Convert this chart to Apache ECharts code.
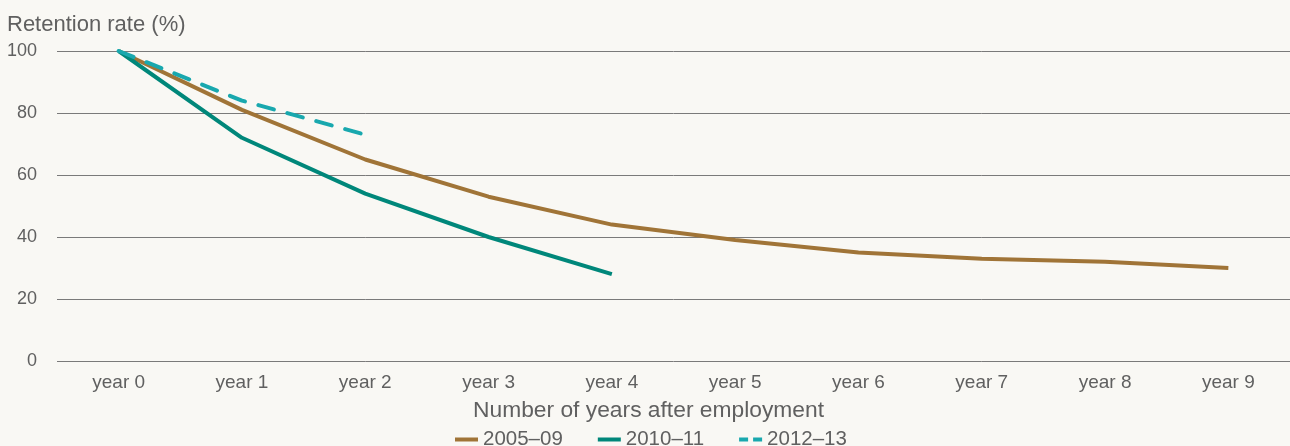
<!DOCTYPE html>
<html>
<head>
<meta charset="utf-8">
<script src="https://cdn.jsdelivr.net/npm/echarts@6/dist/echarts.min.js"></script>
<style>
  html, body { margin: 0; padding: 0; background: #f9f8f4; }
  #chart { width: 1290px; height: 446px; }
</style>
</head>
<body>
<div id="chart"></div>
<script>
// Retention of staff by years since employment, per hiring cohort
const categories = ['year 0', 'year 1', 'year 2', 'year 3', 'year 4', 'year 5', 'year 6', 'year 7', 'year 8', 'year 9'];
const cohort0509 = [100, 81, 65, 53, 44, 39, 35, 33, 32, 30];
const cohort1011 = [100, 72, 54, 40, 28];
const cohort1213 = [100, 84, 73];
const seriesNames = ['2005–09', '2010–11', '2012–13'];
const yTicks = [0, 20, 40, 60, 80, 100];

const FONT = '"Liberation Sans", Arial, Helvetica, sans-serif';
const TEXT = '#606060';
const BROWN = '#a07437';
const GREEN = '#00877a';
const TEAL = '#19a8ae';

const chart = echarts.init(document.getElementById('chart'), null, { renderer: 'canvas' });

chart.setOption({
  backgroundColor: '#f9f8f4',
  animation: false,
  textStyle: { fontFamily: FONT, color: TEXT },
  title: {
    text: 'Retention rate (%)',
    left: 2, top: 9,
    textStyle: { fontFamily: FONT, fontSize: 22, fontWeight: 'normal', color: TEXT }
  },
  legend: {
    top: 424,
    left: 450,
    itemWidth: 23,
    itemHeight: 4,
    itemGap: 35,
    textStyle: { fontFamily: FONT, fontSize: 20.5, color: TEXT },
    data: [
      { name: seriesNames[0], icon: 'rect' },
      { name: seriesNames[1], icon: 'rect' },
      // two short dashes for the dashed cohort
      { name: seriesNames[2], icon: 'path://M0,0H9V4H0Z M14,0H23V4H14Z' }
    ]
  },
  grid: { left: 57, right: 0, top: 51, bottom: 85 },
  xAxis: {
    type: 'category',
    data: categories,
    boundaryGap: true,
    name: 'Number of years after employment',
    nameLocation: 'middle',
    nameGap: 38,
    nameTextStyle: { fontFamily: FONT, fontSize: 22.8, color: TEXT, padding: [0, 50, 0, 0] },
    axisLine: { show: false },
    axisTick: { show: false },
    axisLabel: { fontFamily: FONT, fontSize: 19, color: TEXT, margin: 12 }
  },
  yAxis: {
    type: 'value',
    min: yTicks[0],
    max: yTicks[yTicks.length - 1],
    interval: 20,
    axisLine: { show: false },
    axisTick: { show: false },
    axisLabel: { fontFamily: FONT, fontSize: 18, color: TEXT, margin: 20 },
    splitLine: { lineStyle: { color: '#7a7a7a', width: 1 } }
  },
  series: [
    {
      name: seriesNames[0], type: 'line', data: cohort0509,
      symbol: 'none', color: BROWN,
      lineStyle: { width: 4, color: BROWN }
    },
    {
      name: seriesNames[1], type: 'line', data: cohort1011,
      symbol: 'none', color: GREEN,
      lineStyle: { width: 4, color: GREEN }
    },
    {
      name: seriesNames[2], type: 'line', data: cohort1213,
      symbol: 'none', color: TEAL,
      lineStyle: { width: 4, color: TEAL, type: [16, 14], cap: 'round' }
    }
  ]
});
</script>
</body>
</html>
